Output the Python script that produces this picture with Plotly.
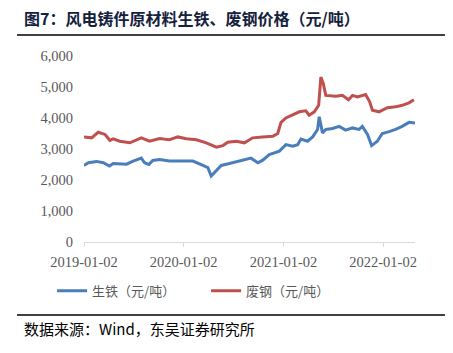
import plotly.graph_objects as go

iron_dates = ["2019-01-02","2019-01-18","2019-02-17","2019-03-14","2019-04-05","2019-04-19","2019-06-07",
              "2019-07-01","2019-07-31","2019-08-12","2019-08-28","2019-09-11","2019-10-06","2019-11-11",
              "2019-12-18","2020-02-05","2020-03-13","2020-03-31","2020-04-12","2020-05-01","2020-05-19",
              "2020-06-18","2020-07-25","2020-09-05","2020-09-30","2020-10-18","2020-11-11","2020-12-18",
              "2021-01-11","2021-02-05","2021-02-23","2021-03-07","2021-03-31","2021-04-19","2021-05-07",
              "2021-05-13","2021-05-25","2021-06-06","2021-07-01","2021-07-25","2021-08-18","2021-09-12",
              "2021-10-06","2021-10-18","2021-11-06","2021-11-21","2021-12-12","2021-12-30","2022-01-24",
              "2022-02-17","2022-03-13","2022-04-07","2022-04-29"]
iron_values = [2470,2556,2600,2556,2450,2530,2510,
               2610,2705,2556,2500,2630,2660,2610,
               2610,2610,2470,2400,2130,2290,2470,
               2530,2610,2705,2556,2640,2820,2930,
               3140,3090,3140,3320,3250,3390,3630,
               4040,3520,3630,3660,3730,3610,3680,
               3630,3730,3470,3110,3250,3500,3560,
               3630,3730,3860,3840]

scrap_dates = ["2019-01-02","2019-01-30","2019-02-23","2019-03-20","2019-04-07","2019-04-19","2019-05-13",
               "2019-06-19","2019-07-31","2019-08-30","2019-10-06","2019-11-11","2019-12-12","2020-01-12",
               "2020-02-18","2020-03-25","2020-05-01","2020-05-25","2020-06-12","2020-07-13","2020-08-12",
               "2020-09-11","2020-10-18","2020-11-24","2020-12-12","2020-12-24","2021-01-11","2021-02-05",
               "2021-03-01","2021-03-25","2021-04-06","2021-04-25","2021-05-11","2021-05-19","2021-05-28",
               "2021-06-06","2021-07-13","2021-08-06","2021-08-28","2021-09-12","2021-09-30","2021-10-30",
               "2021-11-14","2021-11-24","2021-12-18","2022-01-18","2022-02-17","2022-03-13","2022-04-07",
               "2022-04-25"]
scrap_values = [3390,3360,3540,3470,3280,3330,3250,
                3200,3360,3250,3340,3300,3390,3330,
                3300,3200,3060,3110,3220,3250,3200,
                3360,3390,3410,3500,3860,4000,4090,
                4200,4230,4090,4200,4410,5320,5110,
                4730,4700,4730,4590,4730,4680,4760,
                4520,4250,4200,4330,4360,4410,4490,
                4590]

tick_dates = ["2019-01-02","2020-01-02","2021-01-02","2022-01-02"]
y_ticks = [0,1000,2000,3000,4000,5000,6000]

title = "图7：风电铸件原材料生铁、废钢价格（元/吨）"
source = "数据来源：Wind，东吴证券研究所"
cjk = "Noto Sans CJK SC"
serif = "Liberation Serif"

fig = go.Figure()
fig.add_trace(go.Scatter(x=iron_dates, y=iron_values, mode="lines", name="生铁（元/吨）",
                         line=dict(color="#4a7ebb", width=3)))
fig.add_trace(go.Scatter(x=scrap_dates, y=scrap_values, mode="lines", name="废钢（元/吨）",
                         line=dict(color="#c0504d", width=3)))

fig.update_layout(
    width=453, height=353,
    margin=dict(l=84, r=38, t=56, b=111, autoexpand=False),
    paper_bgcolor="white", plot_bgcolor="white",
    showlegend=True,
    legend=dict(orientation="h", xref="container", yref="container", x=0.115, y=0.176,
                xanchor="left", yanchor="middle", font=dict(family=cjk, size=13, color="#595959"),
                itemwidth=30, entrywidth=109, entrywidthmode="pixels", tracegroupgap=0),
    xaxis=dict(type="date", range=["2019-01-02", "2022-04-29"], tickmode="array",
               tickvals=tick_dates, ticktext=tick_dates, showgrid=False, showline=True,
               linecolor="#d9d9d9", linewidth=1, ticks="outside", ticklen=4, tickcolor="#d9d9d9",
               ticklabelstandoff=3,
               tickfont=dict(family=serif, size=14.5, color="#595959"), zeroline=False),
    yaxis=dict(range=[0, 6000], tickmode="array", tickvals=y_ticks,
               ticktext=[f"{v:,}" for v in y_ticks], showgrid=False, showline=False,
               zeroline=False, ticks="", ticklabelstandoff=10,
               tickfont=dict(family=serif, size=14.5, color="#595959")),
    annotations=[
        dict(text="<b>" + title + "</b>", xref="paper", yref="paper", x=-0.186, y=1.203,
             xanchor="left", yanchor="middle", showarrow=False,
             font=dict(family=cjk, size=16, color="#14213d")),
        dict(text=source, xref="paper", yref="paper", x=-0.186, y=-0.465,
             xanchor="left", yanchor="middle", showarrow=False,
             font=dict(family=cjk, size=15, color="#000000")),
    ],
    shapes=[
        dict(type="line", xref="paper", yref="paper", x0=-0.2024, x1=1.0906, y0=1.113, y1=1.113,
             line=dict(color="#000000", width=1.5)),
        dict(type="line", xref="paper", yref="paper", x0=-0.2024, x1=1.0906, y0=-0.392, y1=-0.392,
             line=dict(color="#000000", width=1.5)),
    ],
)

fig.write_html("out.html")
